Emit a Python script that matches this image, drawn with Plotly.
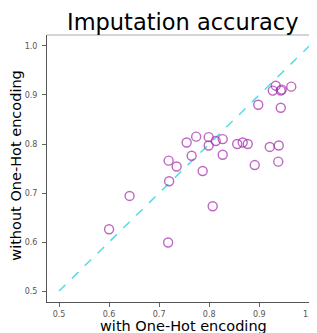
import plotly.graph_objects as go

with_onehot = [0.600, 0.641, 0.720, 0.718, 0.719, 0.735, 0.755, 0.774, 0.765, 0.787,
               0.799, 0.799, 0.813, 0.827, 0.827, 0.856, 0.867, 0.877, 0.807, 0.933,
               0.927, 0.943, 0.945, 0.964, 0.898, 0.943, 0.921, 0.939, 0.891, 0.938]
without_onehot = [0.626, 0.694, 0.724, 0.599, 0.766, 0.754, 0.803, 0.815, 0.776, 0.745,
                  0.814, 0.797, 0.806, 0.810, 0.778, 0.800, 0.803, 0.800, 0.673, 0.919,
                  0.909, 0.909, 0.911, 0.917, 0.880, 0.874, 0.794, 0.797, 0.757, 0.764]
diag = [0.5, 1.0]
tick_vals = [0.5, 0.6, 0.7, 0.8, 0.9, 1.0]
tick_text = ["0.5", "0.6", "0.7", "0.8", "0.9", "1.0"]

# page body has an 8px margin, so the figure is 8px smaller than the window
W, H = 309, 325
L, T, B = 39.3, 27, 31
PW, PH = W - L, H - T - B

fig = go.Figure()
fig.add_trace(go.Scatter(x=diag, y=diag, mode="lines",
                         line=dict(color="rgba(64,216,224,0.9)", width=1.5, dash="dash"),
                         showlegend=False, hoverinfo="skip"))
fig.add_trace(go.Scatter(x=with_onehot, y=without_onehot, mode="markers",
                         marker=dict(symbol="circle-open", size=9,
                                     color="rgba(165,45,175,0.72)",
                                     line=dict(width=1.4, color="rgba(165,45,175,0.72)")),
                         showlegend=False))

axis_common = dict(tickvals=tick_vals, ticktext=tick_text, ticks="outside", ticklen=4,
                   tickcolor="#666", tickfont=dict(family="DejaVu Sans", size=8, color="#555"),
                   showgrid=False, zeroline=False, showline=True, linecolor="#555", linewidth=1)

fig.update_layout(
    width=W, height=H,
    margin=dict(l=L, r=0, t=T, b=B, autoexpand=False),
    plot_bgcolor="white", paper_bgcolor="white",
    xaxis=dict(range=[0.476, 1.0154], **axis_common),
    yaxis=dict(range=[0.4776, 1.0224], ticklabelstandoff=3, **axis_common),
    showlegend=False,
    font=dict(family="DejaVu Sans"),
)
fig.add_shape(type="line", xref="paper", yref="paper", x0=0, x1=1, y0=1, y1=1,
              line=dict(color="#aaa", width=1))
fig.add_annotation(text="Imputation accuracy", xref="paper", yref="paper",
                   x=(175 - L) / PW, y=1, yshift=-2, xanchor="center", yanchor="bottom",
                   showarrow=False, font=dict(family="DejaVu Sans", size=22.5, color="black"))
fig.add_annotation(text="with One-Hot encoding", xref="paper", yref="paper",
                   x=(176 - L) / PW, y=0, yshift=-14, xanchor="center", yanchor="top",
                   showarrow=False, font=dict(family="DejaVu Sans", size=14.5, color="black"))
fig.add_annotation(text="without One-Hot encoding", xref="paper", yref="paper",
                   x=0, xshift=-31.3, y=(294 - 157) / PH, xanchor="center", yanchor="middle",
                   textangle=-90,
                   showarrow=False, font=dict(family="DejaVu Sans", size=14.5, color="black"))

fig.write_html("out.html")
